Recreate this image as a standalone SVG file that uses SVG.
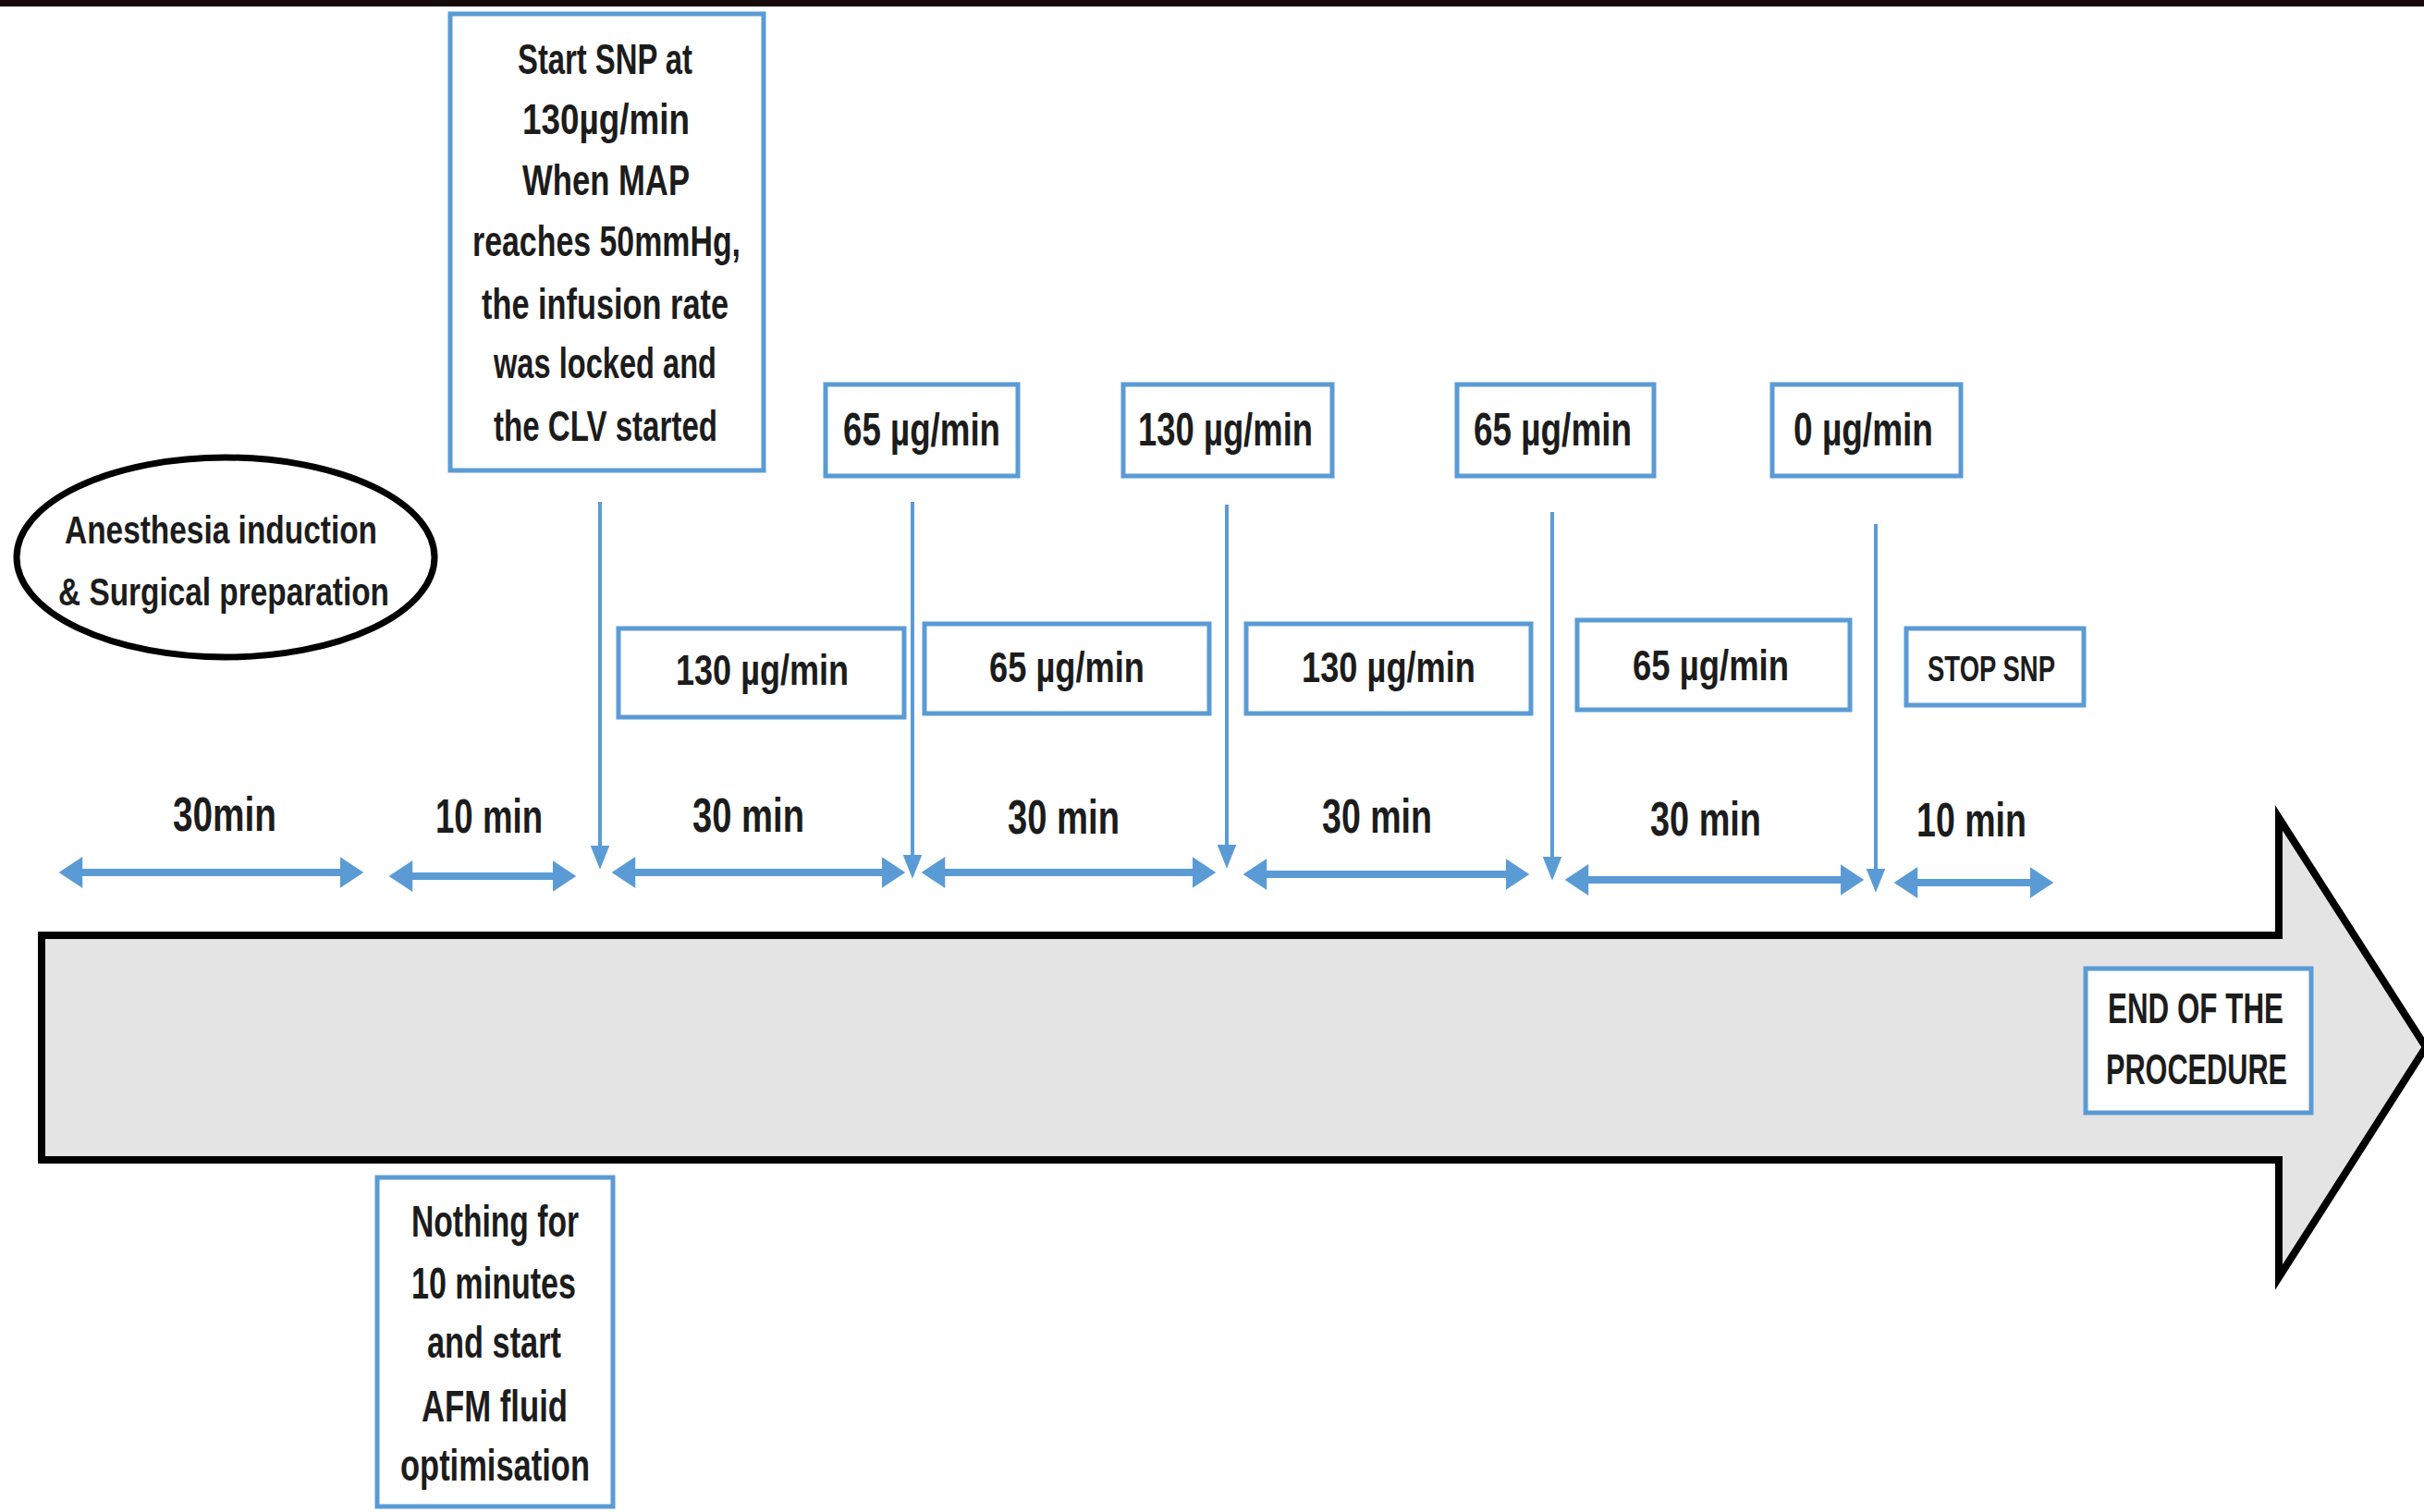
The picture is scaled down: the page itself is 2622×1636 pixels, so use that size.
<svg xmlns="http://www.w3.org/2000/svg" width="2622" height="1636" viewBox="0 0 2622 1636">
<style>
.t{font-family:"Liberation Sans",Arial,sans-serif;font-weight:bold;fill:#1c1c1c}
.box{fill:#ffffff;stroke:#5b9bd5;stroke-width:5}
.dbl{stroke:#5b9bd5;stroke-width:8;fill:none;marker-start:url(#hd);marker-end:url(#hd)}
.vert{stroke:#5b9bd5;stroke-width:4;fill:none;marker-end:url(#hv)}
</style>
<defs>
<marker id="hd" markerUnits="userSpaceOnUse" markerWidth="26" markerHeight="34" viewBox="0 0 24 32" refX="4" refY="16" orient="auto-start-reverse"><path d="M0,0 L24,16 L0,32 z" fill="#5b9bd5"/></marker>
<marker id="hv" markerUnits="userSpaceOnUse" markerWidth="26" markerHeight="22" viewBox="0 0 25 20" refX="5" refY="10" orient="auto"><path d="M0,0 L25,10 L0,20 z" fill="#5b9bd5"/></marker>
</defs>
<rect x="0" y="0" width="2622" height="1636" fill="#ffffff"/>
<rect x="0" y="0" width="2622" height="7" fill="#160b0a"/>

<g id="timeline">
<path d="M45,1012 L2465,1012 L2465,885 L2624,1133 L2465,1382 L2465,1255 L45,1255 Z" fill="#e4e4e4" stroke="#000" stroke-width="8"/>
</g>

<g id="connectors">
<line class="dbl" x1="85" y1="944" x2="372" y2="944"/>
<line class="dbl" x1="442" y1="948" x2="602" y2="948"/>
<line class="dbl" x1="683" y1="944" x2="958" y2="944"/>
<line class="dbl" x1="1018" y1="944" x2="1294" y2="944"/>
<line class="dbl" x1="1366" y1="946" x2="1633" y2="946"/>
<line class="dbl" x1="1714" y1="952" x2="1995" y2="952"/>
<line class="dbl" x1="2070" y1="955" x2="2200" y2="955"/>
<line class="vert" x1="649" y1="543" x2="649" y2="920"/>
<line class="vert" x1="987" y1="543" x2="987" y2="930"/>
<line class="vert" x1="1327" y1="546" x2="1327" y2="919"/>
<line class="vert" x1="1679" y1="554" x2="1679" y2="932"/>
<line class="vert" x1="2029" y1="567" x2="2029" y2="945"/>
</g>

<g id="anesthesia">
<ellipse cx="244" cy="603" rx="226" ry="108" fill="#ffffff" stroke="#000" stroke-width="7"/>
<text class="t" x="70" y="588" font-size="42" textLength="338" lengthAdjust="spacingAndGlyphs">Anesthesia induction</text>
<text class="t" x="63" y="655" font-size="42" textLength="358" lengthAdjust="spacingAndGlyphs">&amp; Surgical preparation</text>
</g>

<g id="start-snp">
<rect class="box" x="487" y="15" width="339" height="494"/>
<text class="t" x="560" y="80" font-size="47" textLength="189" lengthAdjust="spacingAndGlyphs">Start SNP at</text>
<text class="t" x="565" y="145" font-size="47" textLength="181" lengthAdjust="spacingAndGlyphs">130µg/min</text>
<text class="t" x="565" y="211" font-size="47" textLength="181" lengthAdjust="spacingAndGlyphs">When MAP</text>
<text class="t" x="511" y="277" font-size="47" textLength="290" lengthAdjust="spacingAndGlyphs">reaches 50mmHg,</text>
<text class="t" x="521" y="345" font-size="47" textLength="267" lengthAdjust="spacingAndGlyphs">the infusion rate</text>
<text class="t" x="534" y="409" font-size="47" textLength="241" lengthAdjust="spacingAndGlyphs">was locked and</text>
<text class="t" x="534" y="477" font-size="47" textLength="242" lengthAdjust="spacingAndGlyphs">the CLV started</text>
</g>

<g id="top-65a">
<rect class="box" x="893" y="416" width="208" height="99"/>
<text class="t" x="912" y="482" font-size="50" textLength="170" lengthAdjust="spacingAndGlyphs">65 µg/min</text>
</g>
<g id="top-130">
<rect class="box" x="1215" y="416" width="226" height="99"/>
<text class="t" x="1231" y="482" font-size="50" textLength="189" lengthAdjust="spacingAndGlyphs">130 µg/min</text>
</g>
<g id="top-65b">
<rect class="box" x="1576" y="416" width="213" height="99"/>
<text class="t" x="1594" y="482" font-size="50" textLength="171" lengthAdjust="spacingAndGlyphs">65 µg/min</text>
</g>
<g id="top-0">
<rect class="box" x="1917" y="416" width="204" height="99"/>
<text class="t" x="1940" y="482" font-size="50" textLength="151" lengthAdjust="spacingAndGlyphs">0 µg/min</text>
</g>

<g id="row-130a">
<rect class="box" x="669" y="680" width="309" height="96"/>
<text class="t" x="731" y="741" font-size="46" textLength="187" lengthAdjust="spacingAndGlyphs">130 µg/min</text>
</g>
<g id="row-65a">
<rect class="box" x="1000" y="675" width="308" height="97"/>
<text class="t" x="1070" y="738" font-size="46" textLength="168" lengthAdjust="spacingAndGlyphs">65 µg/min</text>
</g>
<g id="row-130b">
<rect class="box" x="1348" y="675" width="308" height="97"/>
<text class="t" x="1408" y="738" font-size="46" textLength="188" lengthAdjust="spacingAndGlyphs">130 µg/min</text>
</g>
<g id="row-65b">
<rect class="box" x="1706" y="671" width="295" height="97"/>
<text class="t" x="1766" y="736" font-size="46" textLength="169" lengthAdjust="spacingAndGlyphs">65 µg/min</text>
</g>
<g id="stop-snp">
<rect class="box" x="2062" y="680" width="192" height="83"/>
<text class="t" x="2085" y="737" font-size="39" textLength="138" lengthAdjust="spacingAndGlyphs">STOP SNP</text>
</g>

<g id="durations">
<text class="t" x="187" y="899" font-size="52" textLength="112" lengthAdjust="spacingAndGlyphs">30min</text>
<text class="t" x="471" y="901" font-size="52" textLength="116" lengthAdjust="spacingAndGlyphs">10 min</text>
<text class="t" x="749" y="900" font-size="52" textLength="121" lengthAdjust="spacingAndGlyphs">30 min</text>
<text class="t" x="1090" y="902" font-size="52" textLength="121" lengthAdjust="spacingAndGlyphs">30 min</text>
<text class="t" x="1430" y="901" font-size="52" textLength="119" lengthAdjust="spacingAndGlyphs">30 min</text>
<text class="t" x="1785" y="904" font-size="52" textLength="120" lengthAdjust="spacingAndGlyphs">30 min</text>
<text class="t" x="2073" y="905" font-size="52" textLength="119" lengthAdjust="spacingAndGlyphs">10 min</text>
</g>

<g id="end">
<rect class="box" x="2256" y="1048" width="244" height="156"/>
<text class="t" x="2280" y="1107" font-size="46" textLength="190" lengthAdjust="spacingAndGlyphs">END OF THE</text>
<text class="t" x="2278" y="1173" font-size="46" textLength="196" lengthAdjust="spacingAndGlyphs">PROCEDURE</text>
</g>

<g id="nothing">
<rect class="box" x="408" y="1274" width="255" height="356"/>
<text class="t" x="445" y="1338" font-size="48" textLength="181" lengthAdjust="spacingAndGlyphs">Nothing for</text>
<text class="t" x="445" y="1405" font-size="48" textLength="178" lengthAdjust="spacingAndGlyphs">10 minutes</text>
<text class="t" x="462" y="1469" font-size="48" textLength="145" lengthAdjust="spacingAndGlyphs">and start</text>
<text class="t" x="456" y="1538" font-size="48" textLength="158" lengthAdjust="spacingAndGlyphs">AFM fluid</text>
<text class="t" x="433" y="1602" font-size="48" textLength="205" lengthAdjust="spacingAndGlyphs">optimisation</text>
</g>
</svg>
